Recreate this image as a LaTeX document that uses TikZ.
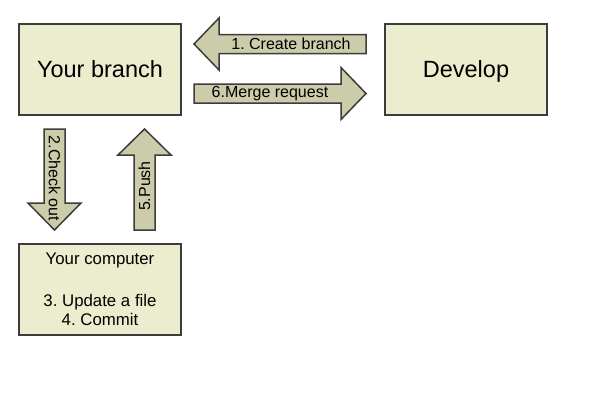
\documentclass[tikz,border=0pt]{standalone}
\usepackage{fontspec}
\setmainfont{Liberation Sans}
\usetikzlibrary{positioning,calc}
\definecolor{boxfill}{RGB}{236,236,206}
\definecolor{arrowfill}{RGB}{204,204,170}
\definecolor{edgegray}{RGB}{60,60,60}
\frenchspacing

\begin{document}
\begin{tikzpicture}[
      x=1pt, y=-1pt,
      box/.style={draw=edgegray, line width=1.5pt, fill=boxfill, align=center,
        minimum width=162pt, minimum height=91pt, inner sep=0pt},
      big text/.style={font=\fontsize{23.5}{27}\selectfont, text height=17pt, text depth=2pt},
      blockarrow/.style={draw=edgegray, line width=1.5pt, fill=arrowfill, line join=miter},
      arrow label/.style={font=\fontsize{16}{18}\selectfont, inner sep=0pt}
    ]
    \useasboundingbox (0,0) rectangle (600,400);
    \node[box, big text] (branch) at (100,69.5) {Your branch};
    \node[box, big text] (develop) at (466,69.5) {Develop};
    \node[box, font=\fontsize{16.8}{19.5}\selectfont] (computer) at (100,289.5)
      {Your computer\\[22.5pt]3. Update a file\\4. Commit};

    % block arrows
    \draw[blockarrow] (194,44) -- (219,18) -- (219,34.5) -- (366,34.5)
      -- (366,53.5) -- (219,53.5) -- (219,70) -- cycle;
    \draw[blockarrow] (366,93.5) -- (341,119.5) -- (341,103) -- (194,103)
      -- (194,84) -- (341,84) -- (341,67.5) -- cycle;
    \draw[blockarrow] (54.5,230) -- (28,203) -- (44,203) -- (44,129)
      -- (65,129) -- (65,203) -- (81,203) -- cycle;
    \draw[blockarrow] (144.5,129) -- (171,155) -- (155,155) -- (155,230)
      -- (134,230) -- (134,155) -- (118,155) -- cycle;

    \node[arrow label] (create) at (291,44) {1. Create branch};
    \node[arrow label] (merge) at (270,93.5) {6.Merge request};
    \node[arrow label, rotate=-90] (checkout) at (54.5,178.5) {2.Check out};
    \node[arrow label, rotate=90] (push) at (144.5,186) {5.Push};
  \end{tikzpicture}
\end{document}
